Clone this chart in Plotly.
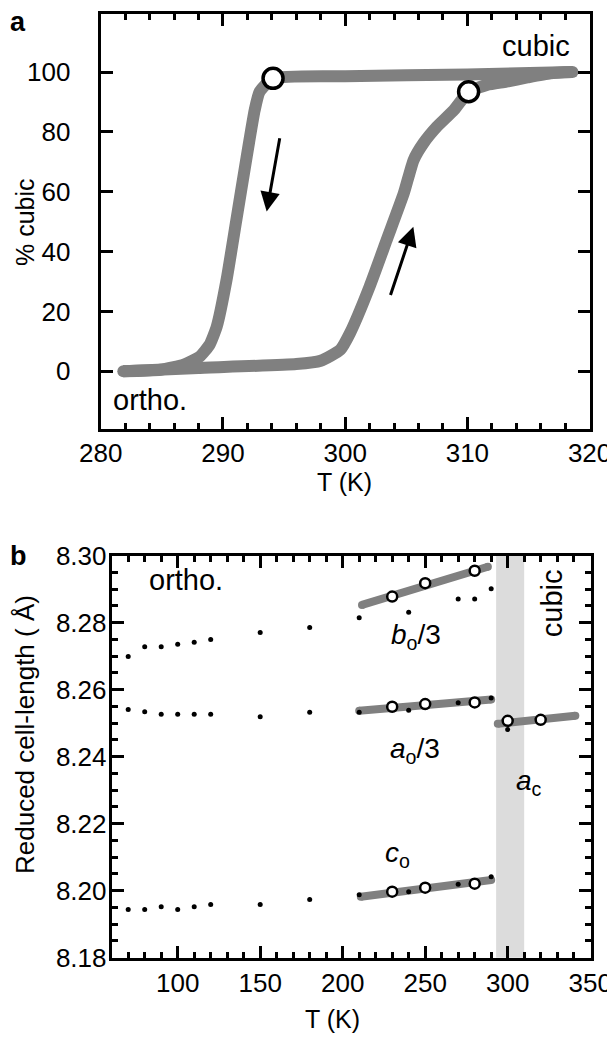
import plotly.graph_objects as go

# ---------------- Panel a data ----------------
heat_T = [281.85, 288.0, 296.0, 298.0, 299.6, 300.4, 302.0, 303.4, 304.8, 305.6, 306.4, 307.5,
          308.9, 310.1, 311.6, 313.2, 314.9, 316.8, 318.6]
heat_pct = [0, 1.1, 2.4, 3.5, 7.2, 12.8, 28.3, 43.9, 59.5, 70.6, 76.2, 81.7,
            87.3, 93.4, 95.7, 96.8, 98.2, 99.6, 100]
cool_T = [318.6, 310.0, 300.0, 294.1, 293.0, 292.6, 291.9, 291.1, 290.3, 289.5, 288.9,
          288.1, 286.8, 284.9, 281.85]
cool_pct = [100, 99.2, 98.6, 97.9, 93.4, 87.3, 70.6, 50.6, 30.6, 15.0, 8.8,
            4.9, 2.2, 0.5, 0]
mark_T = [294.1, 310.1]
mark_pct = [97.9, 93.4]

# ---------------- Panel b data ----------------
b_T = [70, 80, 90, 100, 110, 120, 150, 180, 210, 240, 270, 280, 290]
b_val = [8.2699, 8.2728, 8.2728, 8.2736, 8.2742, 8.2750, 8.2771, 8.2786, 8.2815, 8.2831,
         8.2871, 8.2871, 8.2901]
a_T = [70, 80, 90, 100, 110, 120, 150, 180, 210, 240, 270, 290]
a_val = [8.2541, 8.2534, 8.2527, 8.2527, 8.2527, 8.2527, 8.2519, 8.2533, 8.2533, 8.2539,
         8.2561, 8.2575]
c_T = [70, 80, 90, 100, 110, 120, 150, 180, 210, 240, 270, 290]
c_val = [8.1944, 8.1944, 8.1952, 8.1944, 8.1952, 8.1959, 8.1959, 8.1974, 8.1988, 8.1997,
         8.2019, 8.2042]
cub_T = [300]
cub_val = [8.2481]

open_T = [230, 250, 280]
b_open = [8.2878, 8.2918, 8.2955]
a_open = [8.2549, 8.2557, 8.2562]
c_open = [8.1997, 8.2009, 8.2021]
cub_open_T = [300, 320]
cub_open = [8.2507, 8.2510]

b_fit_T = [211.7, 288.0]
b_fit = [8.2853, 8.2967]
a_fit_T = [210.0, 290.0]
a_fit = [8.2537, 8.2571]
c_fit_T = [211.0, 290.0]
c_fit = [8.1982, 8.2032]
cub_fit_T = [294.0, 341.0]
cub_fit = [8.2498, 8.2522]

band_T = [293, 310]

# page has an 8px body margin: figure is offset by 8px
OFF = 8
W, H = 615 - OFF, 1042 - 2 * OFF
FONT = "Liberation Sans, Arial, sans-serif"
GRAY = "#808080"

def px(x):
    return (x - OFF) / W

def py(y):
    return 1 - (y - OFF) / H

fig = go.Figure()

# ---- panel a ----
for tt, vv in [(heat_T, heat_pct), (cool_T, cool_pct)]:
    fig.add_trace(go.Scatter(x=tt, y=vv, mode="lines", xaxis="x", yaxis="y",
                             line=dict(color=GRAY, width=12, shape="spline", smoothing=0.5),
                             hoverinfo="skip"))
fig.add_trace(go.Scatter(x=[heat_T[0], heat_T[-1]], y=[heat_pct[0], heat_pct[-1]], mode="markers",
                         xaxis="x", yaxis="y", marker=dict(color=GRAY, size=12, line=dict(width=0))))
fig.add_trace(go.Scatter(x=mark_T, y=mark_pct, mode="markers", xaxis="x", yaxis="y",
                         marker=dict(color="white", size=20, line=dict(color="black", width=3.5))))

# ---- panel b ----
for ft, fv in [(b_fit_T, b_fit), (a_fit_T, a_fit), (c_fit_T, c_fit), (cub_fit_T, cub_fit)]:
    fig.add_trace(go.Scatter(x=ft, y=fv, mode="lines", xaxis="x2", yaxis="y2",
                             line=dict(color=GRAY, width=8)))
    fig.add_trace(go.Scatter(x=ft, y=fv, mode="markers", xaxis="x2", yaxis="y2",
                             marker=dict(color=GRAY, size=8, line=dict(width=0))))
for t, v in [(b_T, b_val), (a_T, a_val), (c_T, c_val), (cub_T, cub_val)]:
    fig.add_trace(go.Scatter(x=t, y=v, mode="markers", xaxis="x2", yaxis="y2",
                             marker=dict(color="black", size=5, line=dict(width=0))))
for t, v in [(open_T, b_open), (open_T, a_open), (open_T, c_open), (cub_open_T, cub_open)]:
    fig.add_trace(go.Scatter(x=t, y=v, mode="markers", xaxis="x2", yaxis="y2",
                             marker=dict(color="white", size=10, line=dict(color="black", width=2.5))))

axis_common = dict(showline=True, linecolor="black", linewidth=3, mirror="ticks",
                   ticks="inside", tickcolor="black", tickwidth=2.5, ticklen=12,
                   showgrid=False, zeroline=False, automargin=False, tickmode="linear",
                   ticklabeloverflow="allow",
                   tickfont=dict(family=FONT, size=26, color="black"))

def minor(dt, t0):
    return dict(dtick=dt, tick0=t0, ticks="inside", ticklen=6, tickwidth=2.5,
                tickcolor="black", showgrid=False)

fig.update_layout(
    width=W, height=H, margin=dict(l=0, r=0, t=0, b=0, autoexpand=False),
    paper_bgcolor="white", plot_bgcolor="white", showlegend=False,
    xaxis=dict(domain=[px(100.7), px(589.6)], anchor="y", range=[280, 320],
               tick0=280, dtick=10, ticklabelstandoff=-2, minor=minor(2, 280), **axis_common),
    yaxis=dict(domain=[py(429.3), py(14)], anchor="x", range=[-19.4, 119.4],
               tick0=0, dtick=20, ticklabelstandoff=22, **axis_common),
    xaxis2=dict(domain=[px(111.7), px(591)], anchor="y2", range=[60, 350.5],
                tick0=0, dtick=50, ticklabelstandoff=0, minor=minor(10, 0), **axis_common),
    yaxis2=dict(domain=[py(957.7), py(555.7)], anchor="x2", range=[8.18, 8.30],
                tick0=8.18, dtick=0.02, tickformat=".2f", ticklabelstandoff=-3,
                minor=minor(0.005, 8.18), **axis_common),
)

fig.add_shape(type="rect", xref="x2", yref="y2 domain", x0=band_T[0], x1=band_T[1], y0=0, y1=1,
              fillcolor="#dcdcdc", line=dict(width=0), layer="below")

def txt(x, y, s, xref, yref, size=26, angle=0):
    fig.add_annotation(x=x, y=y, xref=xref, yref=yref, text=s, showarrow=False,
                       textangle=angle, xanchor="center", yanchor="middle", borderpad=0,
                       font=dict(family=FONT, size=size, color="black"))

# arrows in panel a
fig.add_annotation(x=293.58, y=53.4, ax=294.67, ay=78.4, xref="x", yref="y", axref="x", ayref="y",
                   text="", showarrow=True, arrowhead=2, arrowsize=1.3, arrowwidth=3,
                   arrowcolor="black")
fig.add_annotation(x=305.58, y=48.3, ax=303.67, ay=25, xref="x", yref="y", axref="x", ayref="y",
                   text="", showarrow=True, arrowhead=2, arrowsize=1.3, arrowwidth=3,
                   arrowcolor="black")

# panel a texts
txt(315.6, 108.7, "cubic", "x", "y", size=29)
txt(284.0, -9.5, "ortho.", "x", "y", size=29)
txt(px(345), py(482), "T (K)", "paper", "paper", size=25)
txt(px(25), py(222), "% cubic", "paper", "paper", size=25, angle=-90)
txt(px(18), py(22), "<b>a</b>", "paper", "paper", size=27)

# panel b texts
txt(105, 8.2927, "ortho.", "x2", "y2", size=29)
txt(244.7, 8.2758, "<i>b</i><sub>o</sub>/3", "x2", "y2", size=28)
txt(243.6, 8.2420, "<i>a</i><sub>o</sub>/3", "x2", "y2", size=28)
txt(233.4, 8.2107, "<i>c</i><sub>o</sub>", "x2", "y2", size=28)
txt(313.0, 8.2322, "<i>a</i><sub>c</sub>", "x2", "y2", size=28)
txt(327.0, 8.2859, "cubic", "x2", "y2", size=29, angle=-90)
txt(px(332), py(1019), "T (K)", "paper", "paper", size=25)
txt(px(25), py(735), "Reduced cell-length ( Å)", "paper", "paper", size=26, angle=-90)
txt(px(18), py(556), "<b>b</b>", "paper", "paper", size=27)

fig.write_html("out.html")
